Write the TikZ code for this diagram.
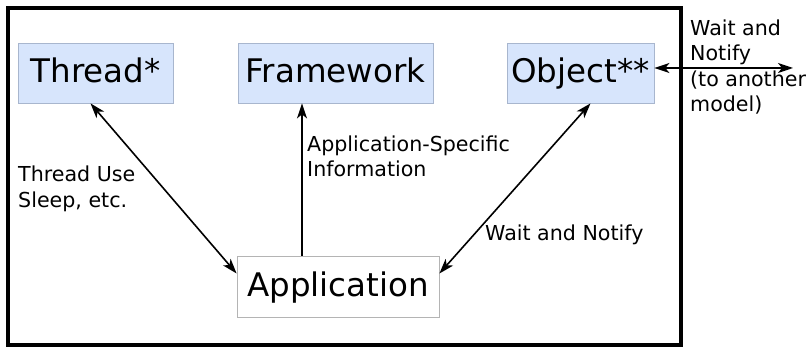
\documentclass[tikz,border=0pt]{standalone}
\usepackage{fontspec}
\setmainfont{DejaVu Sans}
\usetikzlibrary{arrows.meta}

\definecolor{boxfill}{HTML}{D7E5FC}
\definecolor{boxline}{HTML}{A8B6CE}
\definecolor{appline}{HTML}{B4B4B4}

\tikzset{
  ntip/.tip={Stealth[length=15pt,width=10pt,inset=4pt]},
  classbox/.style={draw=boxline, fill=boxfill, line width=0.8pt, minimum height=60pt,
    inner sep=0pt, text height=24pt, text depth=4pt, font=\fontsize{32.5}{39}\selectfont},
  appbox/.style={classbox, draw=appline, fill=white},
  note/.style={align=left, inner sep=0pt, anchor=base west, font=\fontsize{20.6}{25.5}\selectfont},
  link/.style={line width=1.6pt, ntip-ntip}
}

\begin{document}
\begin{tikzpicture}[x=1pt, y=-1pt]
    \useasboundingbox (0,0) rectangle (807,347);
    % Draw the model frame
    \draw[line width=4pt] (8,8) rectangle (681,345);
    % Draw the boxes
    \node[classbox, minimum width=155pt] (thread) at (95.5,73) {Thread*};
    \node[classbox, minimum width=195pt] (fw) at (335.5,73) {Framework};
    \node[classbox, minimum width=147pt] (obj) at (580.5,73) {Object**};
    \node[appbox, minimum width=202pt, minimum height=61pt] (app) at (338,286.5) {Application};
    % Draw the connectors
    \draw[link] ([xshift=-5pt]thread.south) -- ([yshift=13pt]app.west);
    \draw[link, -ntip] ([xshift=-36pt]app.north) -- ([xshift=-36pt]app.north |- fw.south);
    \draw[link] ([xshift=10pt]obj.south) -- ([yshift=13pt]app.east);
    \coordinate (ext) at (793,68);
    \draw[link] (obj.east |- ext) -- (ext);
    % Draw the labels (placed at the baseline of their last line)
    \node[note] (threadlbl) at (18,207.5) {Thread Use\\Sleep, etc.};
    \node[note] (fwlbl) at (307,177) {Application-Specific\\Information};
    \node[note] (objlbl) at (485,241) {Wait and Notify};
    \node[note] (extlbl) at (690,112) {Wait and\\Notify\\(to another\\model)};
\end{tikzpicture}
\end{document}
